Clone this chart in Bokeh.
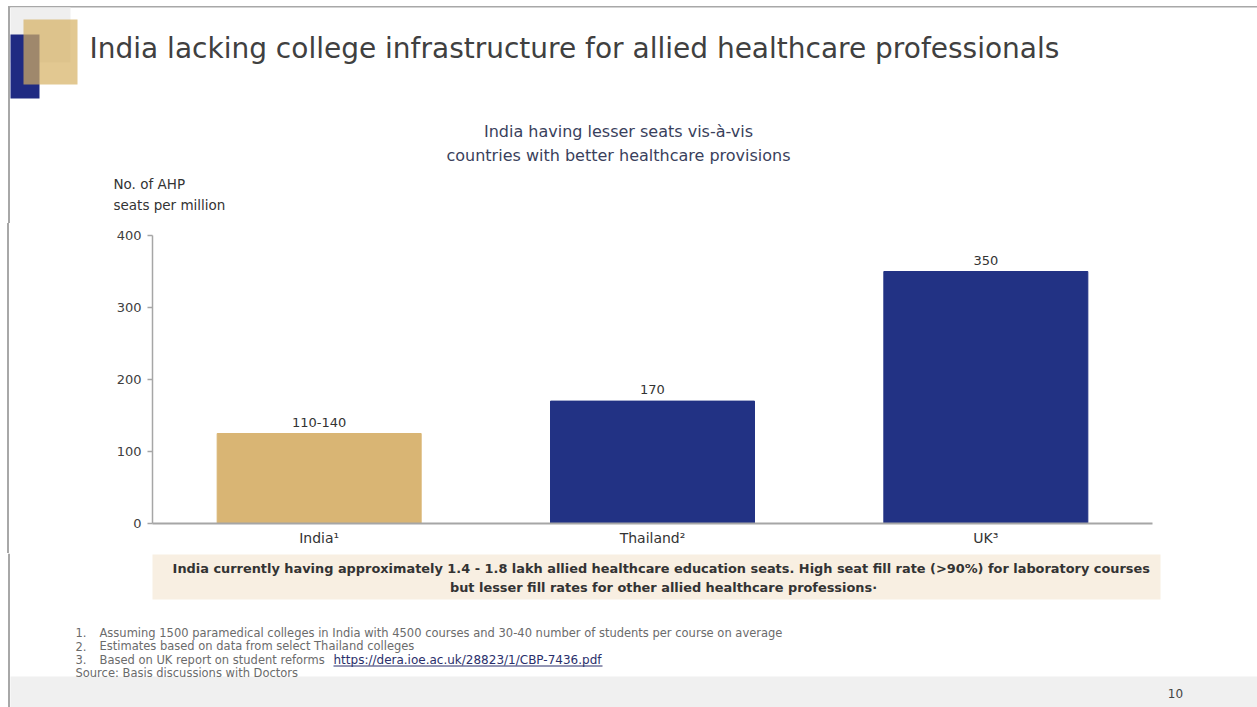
from bokeh.plotting import figure
from bokeh.layouts import column, row
from bokeh.models import ColumnDataSource, LabelSet, Range1d, Spacer
from bokeh.core.properties import value
from bokeh.embed import file_html
from bokeh.resources import INLINE

# ---- data ----
categories = ["India\u00b9", "Thailand\u00b2", "UK\u00b3"]
values = [125, 170, 350]
value_labels = ["110-140", "170", "350"]
bar_colors = ["#D9B574", "#223284", "#223284"]
y_ticks = [0, 100, 200, 300, 400]

title_text = "India lacking college infrastructure for allied healthcare professionals"
subtitle_lines = ["India having lesser seats vis-\u00e0-vis", "countries with better healthcare provisions"]
ylabel_lines = ["No. of AHP", "seats per million"]
callout_lines = [
    "India currently having approximately  1.4 - 1.8 lakh allied healthcare education seats. High seat fill rate (>90%) for laboratory courses",
    "but lesser fill rates for other allied healthcare professions\u00b7",
]
footnote_nums = ["1.", "2.", "3."]
footnote_texts = [
    "Assuming 1500 paramedical colleges in India with 4500 courses and 30-40 number of students per course on average",
    "Estimates based on data from select Thailand colleges",
    "Based on UK report on student reforms",
]
footnote_url = "https://dera.ioe.ac.uk/28823/1/CBP-7436.pdf"
source_text = "Source: Basis discussions with Doctors"
page_number = "10"

W, H = 1257, 707
FONT = "DejaVu Sans"
BORDER = "#A8A8A8"


def canvas_fig(w, y_top, y_bottom):
    """A figure whose frame is the whole canvas, with y measured downward."""
    f = figure(width=w, height=y_bottom - y_top, x_range=Range1d(0, w), y_range=Range1d(y_bottom, y_top),
               x_axis_type=None, y_axis_type=None, output_backend="svg", toolbar_location=None,
               min_border=0, title_location=None)
    f.outline_line_color = None
    f.grid.visible = False
    f.background_fill_color = "white"
    f.border_fill_color = "white"
    return f


def rect(f, l, r, t, b, color, alpha=1.0):
    f.quad(left=[l], right=[r], top=[t], bottom=[b], fill_color=color, fill_alpha=alpha, line_color=None)


def txt(f, x, y, s, size, color, font=FONT, align="left", style="normal"):
    f.text(x=[x], y=[y], text=[s], text_font=value(font), text_font_size=size, text_color=color,
           text_align=align, text_baseline="middle", text_font_style=style)


# ---- top panel: slide header ----
A_TOP, A_BOT = 0, 223
pa = canvas_fig(W, A_TOP, A_BOT)
rect(pa, 8, W, 5.5, 7, BORDER)          # top border
rect(pa, 7.5, 9.5, 5.5, A_BOT, BORDER)  # left border
rect(pa, 10, 70, 7, 62, "#EFEFEF")
rect(pa, 10, 39, 34, 98, "#1F2A82")
rect(pa, 23, 77, 19, 84, "#D6B063", 0.7)
txt(pa, 89, 48, title_text, "28px", "#404040")
txt(pa, 618, 131, subtitle_lines[0], "16px", "#3A3F5C", align="center")
txt(pa, 618, 155, subtitle_lines[1], "16px", "#3A3F5C", align="center")
txt(pa, 113, 183, ylabel_lines[0], "13.5px", "#333333")
txt(pa, 113, 204, ylabel_lines[1], "13.5px", "#333333")

# ---- middle panel: the bar chart ----
B_TOP, B_BOT = 223, 553
strip = Spacer(width=12, height=B_BOT - B_TOP,
               styles={"background": "linear-gradient(to right, #ffffff 0px, #ffffff 7.5px, "
                                     "#A8A8A8 7.5px, #A8A8A8 9.5px, #ffffff 9.5px, #ffffff 12px)"})

src = ColumnDataSource(dict(cat=categories, val=values, lab=value_labels, col=bar_colors))
p = figure(x_range=categories, y_range=Range1d(0, 400), width=W - 12, height=B_BOT - B_TOP,
           output_backend="svg", toolbar_location=None, title_location=None,
           min_border_left=140, min_border_right=105, min_border_top=12, min_border_bottom=30)
p.outline_line_color = None
p.xgrid.grid_line_color = None
p.ygrid.grid_line_color = None
p.background_fill_color = "white"
p.border_fill_color = "white"

p.vbar(x="cat", top="val", width=0.612, color="col", source=src)
p.add_layout(LabelSet(x="cat", y="val", text="lab", source=src, y_offset=7,
                      text_align="center", text_baseline="bottom",
                      text_font=value(FONT), text_font_size="13px", text_color="#333333"))

p.yaxis.ticker = y_ticks
p.yaxis.axis_line_color = "#A6A6A6"
p.yaxis.axis_line_width = 1.5
p.yaxis.major_tick_line_color = "#A6A6A6"
p.yaxis.major_tick_line_width = 1.5
p.yaxis.major_tick_out = 5
p.yaxis.major_tick_in = 0
p.yaxis.minor_tick_line_color = None
p.yaxis.major_label_text_font = FONT
p.yaxis.major_label_text_font_size = "13px"
p.yaxis.major_label_text_color = "#404040"
p.yaxis.major_label_standoff = 6

p.xaxis.axis_line_color = "#A6A6A6"
p.xaxis.axis_line_width = 2
p.xaxis.major_tick_line_color = None
p.xaxis.minor_tick_line_color = None
p.xaxis.major_label_text_font = FONT
p.xaxis.major_label_text_font_size = "14px"
p.xaxis.major_label_text_color = "#333333"
p.xaxis.major_label_standoff = 0

# ---- bottom panel: callout, notes, footer ----
C_TOP, C_BOT = 553, H
pc = canvas_fig(W, C_TOP, C_BOT)
rect(pc, 7.5, 9.5, C_TOP, C_BOT, BORDER)
rect(pc, 152, 1160, 554, 599, "#F8EFE2")
rect(pc, 10, W, 676, C_BOT, "#F0F0F0")
txt(pc, 663, 568, callout_lines[0], "12.9px", "#333333", align="center", style="bold")
txt(pc, 663, 587, callout_lines[1], "12.9px", "#333333", align="center", style="bold")
for i in range(3):
    y = 632 + 13.5 * i
    txt(pc, 75, y, footnote_nums[i], "11.5px", "#6B6B6B")
    txt(pc, 99, y, footnote_texts[i], "11.5px", "#6B6B6B")
txt(pc, 333, 659, footnote_url, "12px", "#2A2F6B")
rect(pc, 333, 602, 665, 666, "#2A2F6B")
txt(pc, 75, 672, source_text, "11.5px", "#6B6B6B")
txt(pc, 1175, 693, page_number, "12px", "#444444", align="center")

layout = column(pa, row(strip, p), pc)
open("out.html", "w").write(file_html(layout, INLINE))
